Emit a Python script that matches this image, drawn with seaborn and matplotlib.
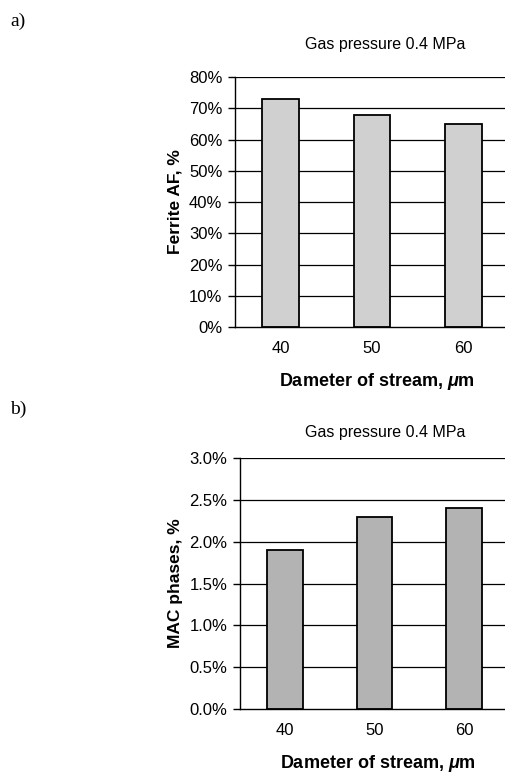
import matplotlib
matplotlib.use("Agg")
import matplotlib.pyplot as plt
import seaborn as sns
import pandas as pd
from matplotlib.ticker import FuncFormatter, FixedLocator

# ---- data ----
diameters = ["40", "50", "60"]
ferrite_af = [73, 68, 65]          # %
mac_phases = [1.9, 2.3, 2.4]       # %
title_text = "Gas pressure 0.4 MPa"
xlabel_text = r"Dameter of stream, $\mu$m"
ylabel_a = "Ferrite AF, %"
ylabel_b = "MAC phases, %"

sns.set_style("white")
plt.rcParams["font.family"] = ["Liberation Sans", "DejaVu Sans"]
plt.rcParams["text.color"] = "black"
plt.rcParams["axes.labelcolor"] = "black"
plt.rcParams["xtick.color"] = "black"
plt.rcParams["ytick.color"] = "black"
plt.rcParams["mathtext.fontset"] = "custom"
plt.rcParams["mathtext.rm"] = "Liberation Sans:bold"
plt.rcParams["mathtext.it"] = "Liberation Sans:italic:bold"
plt.rcParams["mathtext.bf"] = "Liberation Sans:bold"

W, H = 506, 776
fig = plt.figure(figsize=(W / 100, H / 100), dpi=100)

def ax_rect(l, t, r, b):
    return [l / W, 1 - b / H, (r - l) / W, (b - t) / H]

ax1 = fig.add_axes(ax_rect(235, 77, 509, 327))
ax2 = fig.add_axes(ax_rect(240, 458, 509, 709))

df_a = pd.DataFrame({"d": diameters, "v": ferrite_af})
df_b = pd.DataFrame({"d": diameters, "v": mac_phases})

sns.barplot(data=df_a, x="d", y="v", color="#d0d0d0", edgecolor="black",
            linewidth=1.3, width=0.4, saturation=1, ax=ax1, zorder=3)
sns.barplot(data=df_b, x="d", y="v", color="#b3b3b3", edgecolor="black",
            linewidth=1.3, width=0.4, saturation=1, ax=ax2, zorder=3)

def style(ax, ymax, step, fmt, ylabel):
    ax.set_xlim(-0.5, 2.5)
    ax.set_ylim(0, ymax)
    ticks = [i * step for i in range(int(round(ymax / step)) + 1)]
    ax.set_yticks(ticks)
    ax.yaxis.set_major_formatter(FuncFormatter(lambda v, p: fmt.format(v)))
    for t in ticks[1:]:
        ax.axhline(t, color="black", lw=0.9, zorder=1)
    for s in ["top", "right"]:
        ax.spines[s].set_visible(False)
    for s in ["left", "bottom"]:
        ax.spines[s].set_color("black")
        ax.spines[s].set_linewidth(1.0)
        ax.spines[s].set_zorder(4)
    ax.xaxis.set_minor_locator(FixedLocator([-0.5, 0.5, 1.5, 2.5]))
    ax.tick_params(axis="x", which="major", length=0, pad=10, labelsize=12)
    ax.tick_params(axis="x", which="minor", length=5, width=1, color="black", direction="out")
    ax.tick_params(axis="y", length=5, width=1, color="black", direction="out", labelsize=12, pad=4, left=True)
    ax.set_xlabel("")
    ax.set_ylabel(ylabel, fontsize=12.5, fontweight="bold", labelpad=5)

style(ax1, 80, 10, "{:.0f}%", ylabel_a)
style(ax2, 3.0, 0.5, "{:.1f}%", ylabel_b)

fig.text(385 / W, 1 - 44 / H, title_text, ha="center", va="center", fontsize=11.5)
fig.text(385 / W, 1 - 432 / H, title_text, ha="center", va="center", fontsize=11.5)
fig.text(377 / W, 1 - 381 / H, xlabel_text, ha="center", va="center", fontsize=13, fontweight="bold")
fig.text(378 / W, 1 - 764 / H, xlabel_text, ha="center", va="center", fontsize=13, fontweight="bold")
fig.text(10 / W, 1 - 21 / H, "a)", ha="left", va="center", fontsize=14, family="Liberation Serif")
fig.text(10 / W, 1 - 409 / H, "b)", ha="left", va="center", fontsize=14, family="Liberation Serif")

fig.savefig("out.png", dpi=100)
